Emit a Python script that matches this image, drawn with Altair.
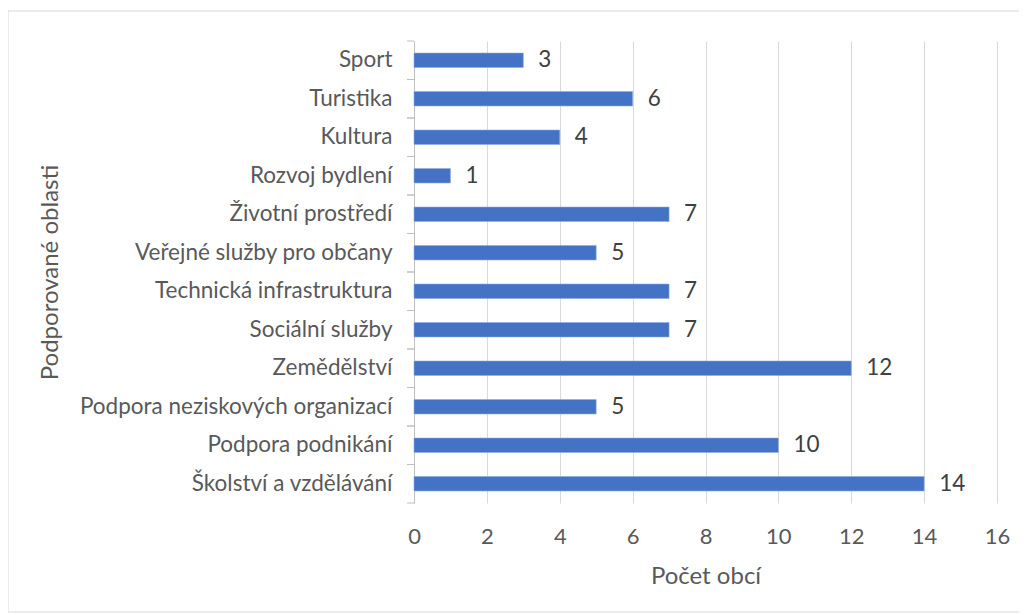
import altair as alt
import pandas as pd

categories = [
    "Sport", "Turistika", "Kultura", "Rozvoj bydlení", "Životní prostředí ",
    "Veřejné služby pro občany", "Technická infrastruktura", "Sociální služby",
    "Zemědělství", "Podpora neziskových organizací", "Podpora podnikání",
    "Školství a vzdělávání",
]
values = [3, 6, 4, 1, 7, 5, 7, 7, 12, 5, 10, 14]
x_ticks = [0, 2, 4, 6, 8, 10, 12, 14, 16]

df = pd.DataFrame({"oblast": categories, "pocet": values})

FONT = "Lato"
W, H = 583, 462
half = H / len(categories) / 2

y_enc = alt.Y(
    "oblast:N", sort=categories, title="Podporované oblasti",
    scale=alt.Scale(paddingInner=0, paddingOuter=0),
    axis=alt.Axis(
        labelFont=FONT, labelFontSize=22.5, labelColor="#595959", labelPadding=22,
        labelLimit=500, labelFontWeight="normal",
        ticks=False, domain=True, domainColor="#bfbfbf", domainWidth=1,
        titleFont=FONT, titleFontSize=24, titleColor="#595959", titleFontWeight="normal",
        titleAngle=-90, titleX=-364, titleY=H / 2, titleBaseline="middle", titleAlign="center",
        grid=False,
    ),
)
x_enc = alt.X(
    "pocet:Q", title="Počet obcí",
    scale=alt.Scale(domain=[0, 16], nice=False),
    axis=alt.Axis(
        values=x_ticks, labelFont=FONT, labelFontSize=22, labelColor="#595959",
        labelFontWeight="normal", labelFlush=False,
        labelBaseline="middle", labelPadding=33, ticks=False, tickSize=0, domain=False,
        grid=True, gridColor="#d9d9d9", gridWidth=1,
        titleFont=FONT, titleFontSize=24, titleColor="#595959", titleFontWeight="normal",
        titleX=W / 2, titleY=73, titleBaseline="middle", titleAlign="center",
    ),
)

base = alt.Chart(df)
bars = base.mark_bar(size=14.5, color="#4472C4", stroke="#8fabde", strokeWidth=0.6).encode(
    x=x_enc, y=y_enc
)
labels = base.mark_text(
    align="left", baseline="middle", dx=15, font=FONT, fontSize=22.5,
    fontWeight="normal", color="#404040"
).encode(x=x_enc, y=y_enc, text="pocet:Q")

tick_top = base.mark_rule(color="#bfbfbf", strokeWidth=1, yOffset=-half).encode(
    y=y_enc, x=alt.value(-7), x2=alt.value(0)
)
tick_bot = base.mark_rule(color="#bfbfbf", strokeWidth=1, yOffset=half).encode(
    y=y_enc, x=alt.value(-7), x2=alt.value(0)
)

border = alt.Chart(pd.DataFrame({"a": [0]})).mark_rect(
    filled=False, stroke="#d9d9d9", strokeWidth=1
).encode(
    x=alt.value(-406), x2=alt.value(606), y=alt.value(-30), y2=alt.value(571)
)

chart = alt.layer(border, bars, labels, tick_top, tick_bot).properties(
    width=W, height=H,
    autosize=alt.AutoSizeParams(type="none"),
    padding={"left": 406, "top": 33, "right": 22, "bottom": 110},
    background="white",
).configure_view(stroke=None)

chart.save("out.html", embed_options={"renderer": "svg", "actions": False})
